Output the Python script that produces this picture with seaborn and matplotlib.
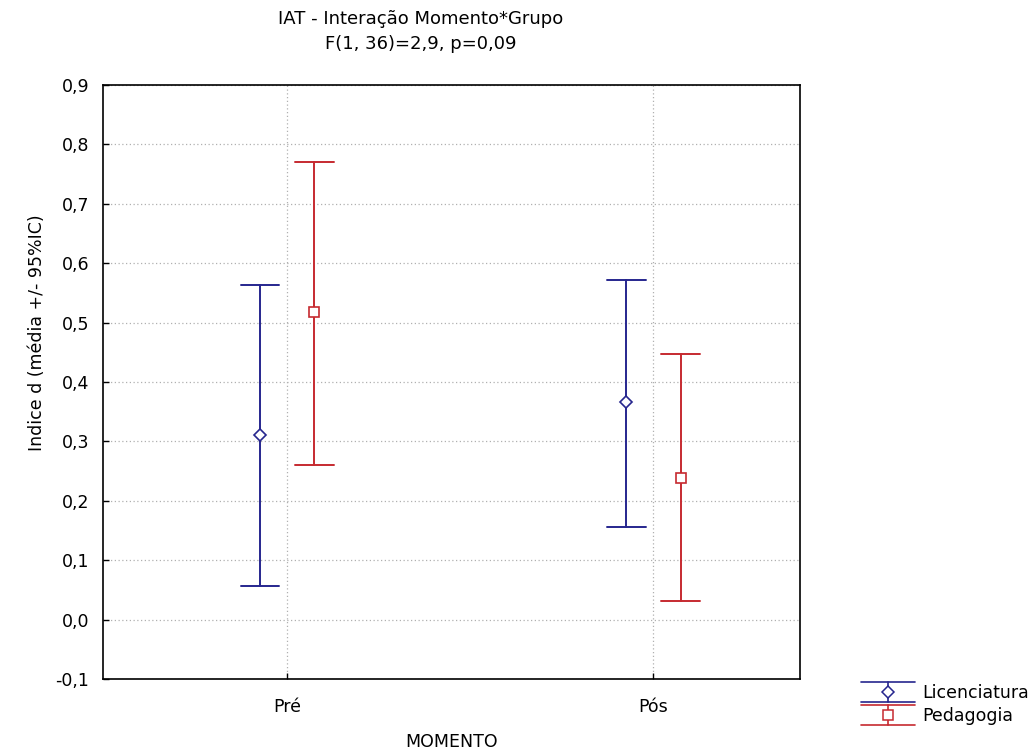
import matplotlib
matplotlib.use('Agg')
import matplotlib.pyplot as plt
from matplotlib.lines import Line2D
from matplotlib.legend_handler import HandlerBase
import pandas as pd
import seaborn as sns

# values (mean and 95% CI limits)
momentos = ['Pré', 'Pós']
grupos = ['Licenciatura', 'Pedagogia']
media_lic = [0.31, 0.366]
inf_lic = [0.057, 0.156]
sup_lic = [0.563, 0.571]
media_ped = [0.517, 0.239]
inf_ped = [0.261, 0.032]
sup_ped = [0.77, 0.447]

cores = {'Licenciatura': '#26268e', 'Pedagogia': '#c62a30'}

# long table: lower, mean, upper per cell -> median = mean, pi 100 = CI
rows = []
for g, med, lo, hi in [('Licenciatura', media_lic, inf_lic, sup_lic),
                       ('Pedagogia', media_ped, inf_ped, sup_ped)]:
    for i, m in enumerate(momentos):
        for v in (lo[i], med[i], hi[i]):
            rows.append({'MOMENTO': m, 'Grupo': g, 'valor': v})
df = pd.DataFrame(rows)

sns.set_style('white')
plt.rcParams['font.family'] = ['DejaVu Sans']
plt.rcParams['text.color'] = 'black'
plt.rcParams['axes.labelcolor'] = 'black'

fig = plt.figure(figsize=(10.34, 7.55), dpi=100)
ax = fig.add_axes([0.0996, 0.1007, 0.6741, 0.7867])

sns.pointplot(data=df, x='MOMENTO', y='valor', hue='Grupo', order=momentos,
              hue_order=grupos, estimator='median', errorbar=('pi', 100),
              dodge=0.148, markers=['D', 's'], linestyles='none',
              palette=cores, capsize=0.105, err_kws={'linewidth': 1.4},
              markersize=6.5, ax=ax, legend=False)

# hollow markers
for ln in ax.lines:
    if ln.get_marker() in ('D', 's'):
        ln.set_markerfacecolor('white')
        ln.set_markeredgewidth(1.2)
        ln.set_zorder(5)

ax.set_xlim(-0.503, 1.40)
ax.set_ylim(-0.1, 0.9)
ax.set_yticks([i / 10 for i in range(-1, 10)])
ax.set_yticklabels([f'{i / 10:.1f}'.replace('.', ',') for i in range(-1, 10)])
ax.tick_params(axis='both', direction='in', length=4, width=1, labelsize=12.5,
               colors='black', left=True, bottom=True)
ax.tick_params(axis='y', pad=10)
ax.tick_params(axis='x', pad=14)
ax.grid(True, linestyle=(0, (1, 2)), color='#b0b0b0', linewidth=0.9)
for s in ax.spines.values():
    s.set_color('black')
    s.set_linewidth(1.2)

ax.set_xlabel('MOMENTO', fontsize=12.5, labelpad=12)
ax.set_ylabel('')
fig.text(0.036, 0.56, 'Indice d (média +/- 95%IC)', rotation=90,
         ha='center', va='center', fontsize=12.5)

fig.text(0.407, 0.987, 'IAT - Interação Momento*Grupo', ha='center', va='top', fontsize=13)
fig.text(0.407, 0.954, 'F(1, 36)=2,9, p=0,09', ha='center', va='top', fontsize=13)


# legend symbol: errorbar with wide caps and hollow marker
class HandlerEB(HandlerBase):
    def create_artists(self, legend, orig, xd, yd, width, height, fontsize, trans):
        c = orig.get_color()
        cx = width / 2 - xd
        y0, y1 = -yd, height - yd
        arts = [
            Line2D([cx, cx], [y0, y1], color=c, lw=1.2),
            Line2D([-xd, width - xd], [y1, y1], color=c, lw=1.2),
            Line2D([-xd, width - xd], [y0, y0], color=c, lw=1.2),
            Line2D([cx], [(y0 + y1) / 2], marker=orig.get_marker(), color=c,
                   mfc='white', mew=1.1, markersize=6.5, linestyle='none'),
        ]
        for a in arts:
            a.set_transform(trans)
        return arts


handles = [Line2D([], [], color=cores[g], marker=mk) for g, mk in zip(grupos, ['D', 's'])]
fig.legend(handles, grupos, loc='upper left', bbox_to_anchor=(0.823, 0.11),
           frameon=False, fontsize=12.5, handlelength=3.1, handleheight=1.35,
           handletextpad=0.4, labelspacing=0.2, borderpad=0.1,
           handler_map={Line2D: HandlerEB()})

fig.savefig('out.png', dpi=100)
